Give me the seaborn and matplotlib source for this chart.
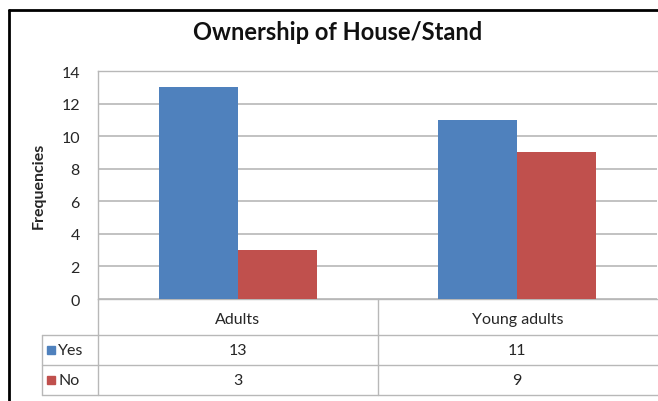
import matplotlib
matplotlib.use("Agg")
import matplotlib.pyplot as plt
import matplotlib.transforms as mtransforms
from matplotlib.lines import Line2D
from matplotlib.patches import Rectangle
import seaborn as sns
import pandas as pd

categories = ["Adults", "Young adults"]
series = ["Yes", "No"]
yes_vals = [13, 11]
no_vals = [3, 9]
yticks = [0, 2, 4, 6, 8, 10, 12, 14]
colors = ["#4F81BD", "#C0504D"]

df = pd.DataFrame({
    "category": categories * 2,
    "series": [series[0]] * len(categories) + [series[1]] * len(categories),
    "value": yes_vals + no_vals,
})

sns.set_style("white")
plt.rcParams["font.family"] = ["Lato", "DejaVu Sans"]

W, H = 658, 402
fig = plt.figure(figsize=(W / 100, H / 100), dpi=100)

def fx(x):
    return x / W

def fy(y):
    return 1 - y / H

FS = 11.5
TC = "#262626"

ax = fig.add_axes([fx(98), fy(300), fx(657) - fx(98), fy(72) - fy(300)])
sns.barplot(data=df, x="category", y="value", hue="series", palette=colors,
            width=0.565, ax=ax, legend=False, saturation=1, zorder=3,
            linewidth=0)
ax.set_xlim(-0.5, 1.5)
ax.set_ylim(0, 14)
ax.set_yticks(yticks)
ax.set_yticklabels([str(t) for t in yticks], fontsize=FS, color=TC)
ax.tick_params(axis="y", length=0, pad=13)
ax.set_xticks([])
ax.set_xlabel("")
ax.set_ylabel("Frequencies", fontsize=FS, fontweight="bold", labelpad=11)
ax.yaxis.grid(True, color="#B8B8B8", linewidth=1.2, zorder=0)
for s in ax.spines.values():
    s.set_color("#B8B8B8")
    s.set_linewidth(1.0)
ax.spines["right"].set_visible(False)

fig.text(fx(338), fy(33), "Ownership of House/Stand", ha="center", va="center",
         fontsize=17, fontweight="bold", color="#111111")

# data table
blend = mtransforms.blended_transform_factory(ax.transData, fig.transFigure)
lc = "#B8B8B8"
row_lines = [336, 366, 396]
for y in row_lines:
    fig.add_artist(Line2D([fx(42), fx(658)], [fy(y), fy(y)], color=lc, lw=1.0,
                          transform=fig.transFigure))
fig.add_artist(Line2D([fx(42), fx(42)], [fy(336), fy(396)], color=lc, lw=1.0,
                      transform=fig.transFigure))
fig.add_artist(Line2D([fx(98), fx(98)], [fy(300), fy(396)], color=lc, lw=1.0,
                      transform=fig.transFigure))
fig.add_artist(Line2D([0.5, 0.5], [fy(300), fy(396)], color=lc, lw=1.0,
                      transform=blend))

for i, c in enumerate(categories):
    fig.text(i, fy(320), c, ha="center", va="center", fontsize=FS,
             color=TC, transform=blend)

row_y = [351, 381]
for vals, name, col, y in zip([yes_vals, no_vals], series, colors, row_y):
    fig.add_artist(Rectangle((fx(47), fy(y) - 4 / H), 8 / W, 8 / H,
                             color=col, transform=fig.transFigure))
    fig.text(fx(58), fy(y), name, ha="left", va="center", fontsize=FS,
             color=TC)
    for i, v in enumerate(vals):
        fig.text(i, fy(y), str(v), ha="center", va="center", fontsize=FS,
                 color=TC, transform=blend)

# outer chart border
fig.add_artist(Line2D([fx(9), fx(658)], [fy(11), fy(11)], color="black", lw=2,
                      transform=fig.transFigure))
fig.add_artist(Line2D([fx(9), fx(9)], [fy(11), fy(402)], color="black", lw=2,
                      transform=fig.transFigure))

fig.savefig("out.png", dpi=100, facecolor="white")
